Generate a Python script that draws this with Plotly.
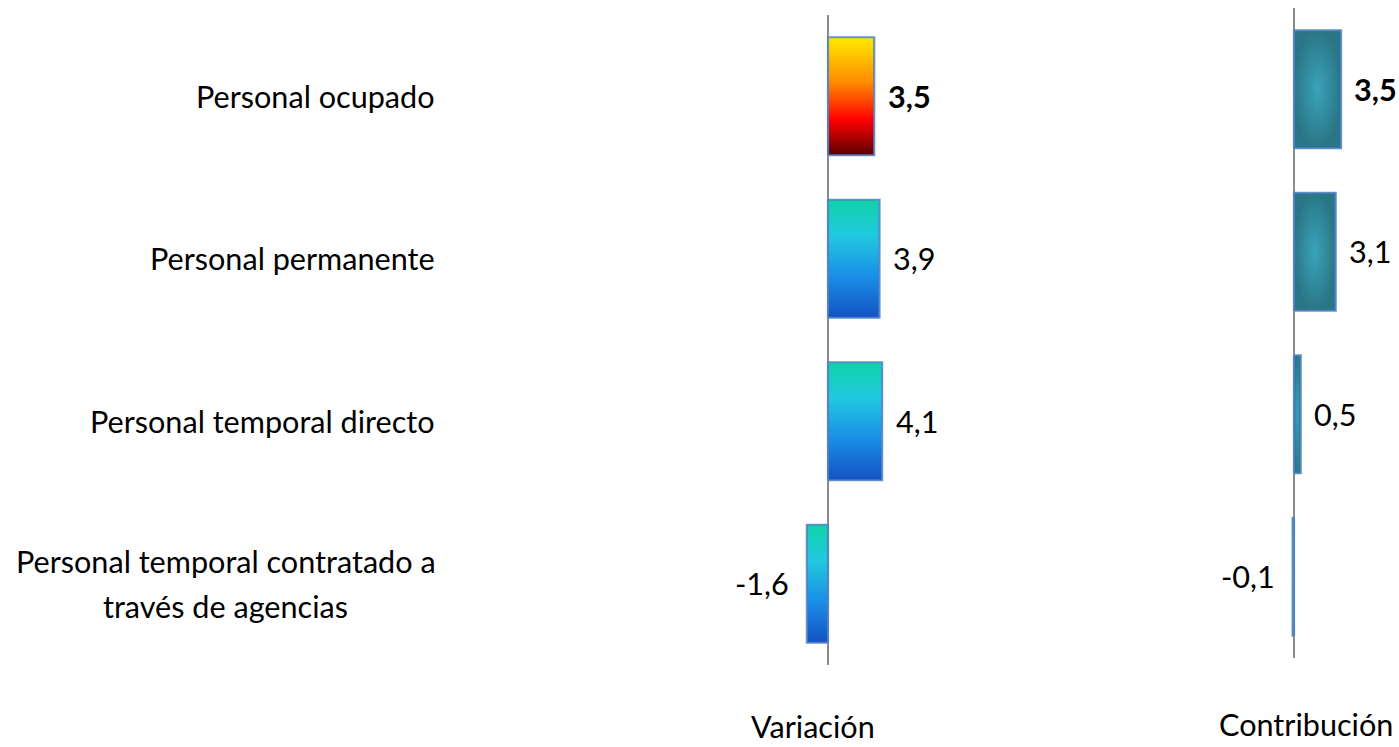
import plotly.graph_objects as go

# ---------------- data ----------------
categories = [
    "Personal ocupado",
    "Personal permanente",
    "Personal temporal directo",
    "Personal temporal contratado a<br>través de agencias",
]
variacion = [3.5, 3.9, 4.1, -1.6]
contribucion = [3.5, 3.1, 0.5, -0.1]
panel_titles = ["Variación", "Contribución"]

# ---------------- styling / layout constants ----------------
W, H = 1399, 747
FONT = "Lato"
FS = 30.6
HALF = 0.363  # half bar thickness in category units
OUTLINE = "rgba(79,129,200,0.85)"

grad_total = [[0, "#5a0000"], [0.3, "#ff0000"], [0.62, "#ff8c00"], [1, "#ffea00"]]
grad_blue = [[0, "#1352c2"], [0.35, "#1a8ee6"], [0.7, "#22c9e0"], [1, "#0fd3a6"]]
grad_teal = [[0, "#3aa3ba"], [1, "#2a7686"]]


def fmt(v):
    return f"{v:.1f}".replace(".", ",")


def xrange_for(zero_px, ppu, d0, d1):
    return [(d0 - zero_px) / ppu, (d1 - zero_px) / ppu]


left_dom = (470, 1120)
right_dom = (1135, 1399)
left_range = xrange_for(828, 13.2, *left_dom)
right_range = xrange_for(1294, 13.45, *right_dom)

n = len(categories)
pos = [n - 1 - i for i in range(n)]

fig = go.Figure()
annotations = []

panels = [
    ("x", "y", variacion, True),
    ("x2", "y2", contribucion, False),
]
for xa, ya, vals, is_left in panels:
    for i, (v, p) in enumerate(zip(vals, pos)):
        if is_left:
            cs = grad_total if i == 0 else grad_blue
            fg = dict(type="vertical", colorscale=cs)
        else:
            fg = dict(type="radial", colorscale=grad_teal)
        fig.add_trace(go.Scatter(
            x=[0, v, v, 0, 0],
            y=[p - HALF, p - HALF, p + HALF, p + HALF, p - HALF],
            xaxis=xa, yaxis=ya,
            mode="lines", fill="toself",
            fillgradient=fg,
            line=dict(color=OUTLINE, width=2.2),
            hoverinfo="skip", showlegend=False,
        ))
        txt = fmt(v)
        if i == 0:
            txt = "<b>" + txt + "</b>"
        annotations.append(dict(
            x=v, y=p, xref=xa, yref=ya, text=txt, showarrow=False,
            xanchor="left" if v >= 0 else "right",
            xshift=(12 if is_left else 11) if v >= 0 else -16,
            font=dict(family=FONT, size=FS, color="#000000"),
        ))

# category labels
for cat, p in zip(categories, pos):
    lines = cat.split("<br>")
    if len(lines) == 1:
        annotations.append(dict(
            x=437 / W, xref="paper", y=p, yref="y", text=cat, showarrow=False,
            xanchor="right", font=dict(family=FONT, size=FS, color="#000000"),
        ))
    else:
        for k, ln in enumerate(lines):
            annotations.append(dict(
                x=226 / W, xref="paper", y=p, yref="y", text=ln, showarrow=False,
                xanchor="center", yshift=22 - 45 * k,
                font=dict(family=FONT, size=FS, color="#000000"),
            ))

# panel titles
for title, cx, cy in zip(panel_titles, [813, 1306], [726, 724]):
    annotations.append(dict(
        x=cx / W, y=1 - cy / H, xref="paper", yref="paper", text=title,
        showarrow=False, xanchor="center", yanchor="middle",
        font=dict(family=FONT, size=FS, color="#000000"),
    ))

axis_common = dict(showgrid=False, showticklabels=False, ticks="", showline=False,
                   zeroline=True, zerolinecolor="#8c8c8c", zerolinewidth=1.5,
                   fixedrange=True)
yaxis_common = dict(showgrid=False, showticklabels=False, ticks="", showline=False,
                    zeroline=False, range=[-0.5, n - 0.5], fixedrange=True)

fig.update_layout(
    width=W, height=H,
    margin=dict(l=0, r=0, t=0, b=0),
    paper_bgcolor="white", plot_bgcolor="white",
    font=dict(family=FONT, size=FS, color="#000000"),
    xaxis=dict(domain=[left_dom[0] / W, left_dom[1] / W], range=left_range, anchor="y", **axis_common),
    xaxis2=dict(domain=[right_dom[0] / W, right_dom[1] / W], range=right_range, anchor="y2", **axis_common),
    yaxis=dict(domain=[1 - 665 / H, 1 - 15 / H], anchor="x", **yaxis_common),
    yaxis2=dict(domain=[1 - 658 / H, 1 - 8 / H], anchor="x2", **yaxis_common),
    annotations=annotations,
    showlegend=False,
)

fig.write_html(
    "out.html",
    config={"displayModeBar": False},
    post_script="document.body.style.margin='0';document.body.style.overflow='hidden';",
)
